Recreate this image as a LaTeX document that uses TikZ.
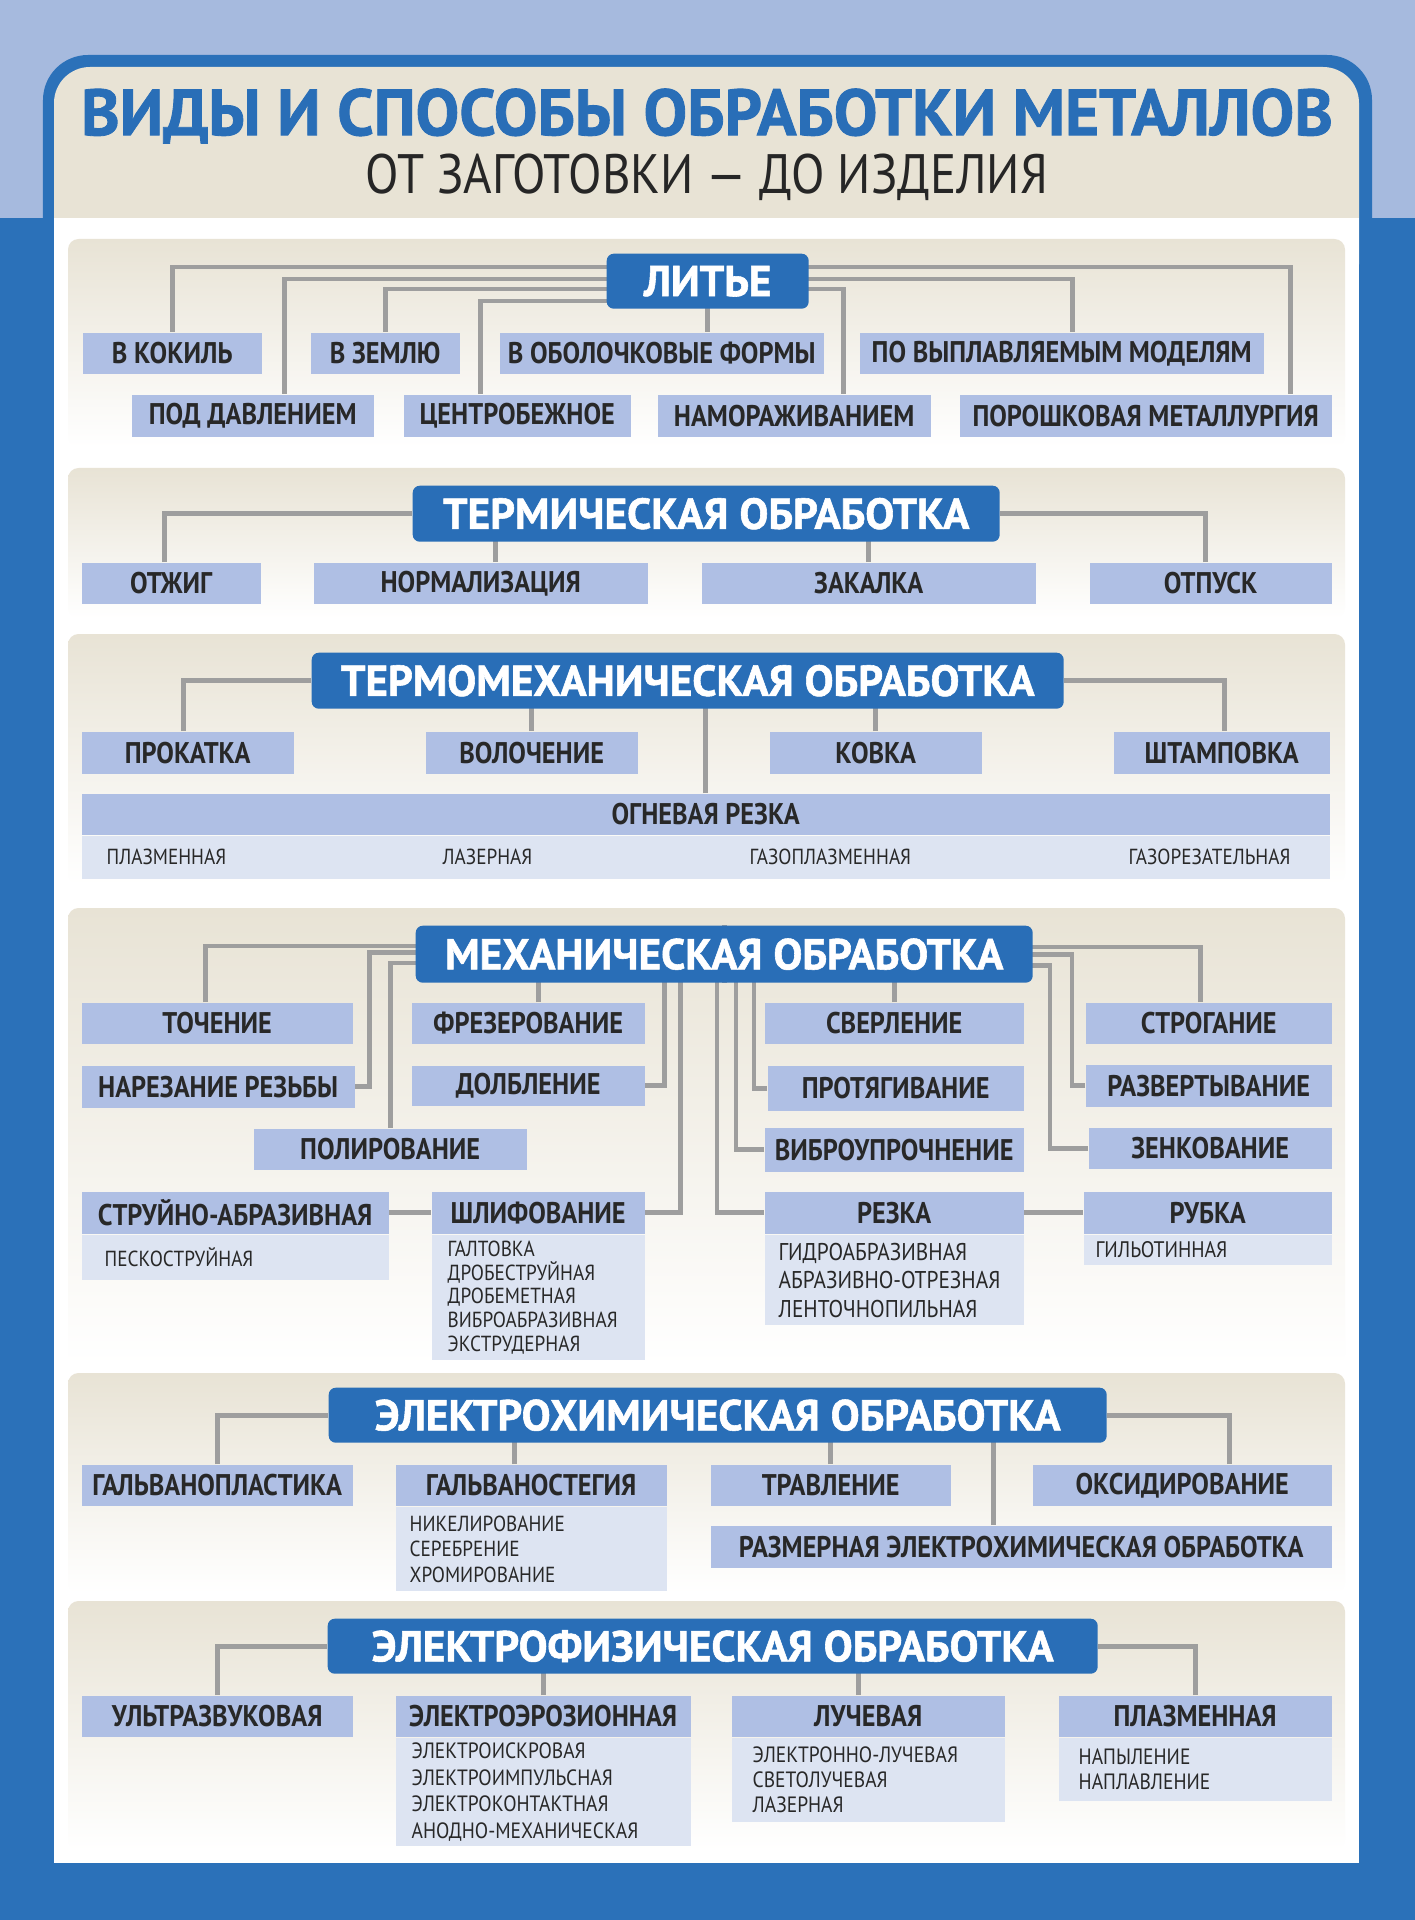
\documentclass[tikz,border=0pt]{standalone}
\usepackage{fontspec}
\setmainfont[FakeStretch=0.88]{PT Sans}
\newfontfamily\headfont[BoldFeatures={FakeBold=1.3}]{PT Sans}
\usepackage{tikz}
\usetikzlibrary{positioning}
\pgfdeclarelayer{back}
\pgfdeclarelayer{lines}
\pgfsetlayers{back,lines,main}

\definecolor{bluedark}{RGB}{43,113,185}
\definecolor{bluelight}{RGB}{166,186,222}
\definecolor{beige}{RGB}{232,227,213}
\definecolor{headblue}{RGB}{41,110,183}
\definecolor{kindblue}{RGB}{175,191,228}
\definecolor{subblue}{RGB}{221,228,242}
\definecolor{linegray}{RGB}{158,158,158}
\definecolor{textgray}{RGB}{40,40,40}

\tikzstyle{mainbox} = [anchor=north west, fill=headblue, rounded corners=2pt, text=white, inner sep=0pt,
                       font=\headfont\fontsize{12.3}{13}\selectfont\bfseries]
\tikzstyle{kind}    = [anchor=north west, fill=kindblue, text=textgray, inner sep=0pt,
                       font=\fontsize{8.5}{9}\selectfont\bfseries]
\tikzstyle{subkind} = [anchor=north west, fill=subblue, text=textgray, inner xsep=0.16cm, inner ysep=0pt, align=left]
\tikzstyle{subitem} = [anchor=west, text=textgray, inner sep=0pt, font=\fontsize{6.2}{6.5}\selectfont]
\tikzstyle{link}    = [draw=linegray, line width=1.4pt]
\tikzstyle{panel}   = [top color=beige, bottom color=white, rounded corners=3pt]

\begin{document}
\begin{tikzpicture}[x=1cm, y=-1cm]

\useasboundingbox (0,0) rectangle (14.15,19.20);

% frame
\begin{pgfonlayer}{back}
\fill [bluedark]  (0,0) rectangle (14.15,19.20);
\fill [bluelight] (0,0) rectangle (14.15,2.18);
\fill [bluedark, rounded corners=0.45cm] (0.43,0.55) rectangle (13.72,4.00);
\fill [beige, rounded corners=0.36cm]    (0.54,0.67) rectangle (13.59,3.00);
\fill [white] (0.54,2.18) rectangle (13.59,18.63);

\path [panel] (0.68, 2.39) rectangle (13.45, 4.47);
\path [panel] (0.68, 4.68) rectangle (13.45, 6.18);
\path [panel] (0.68, 6.34) rectangle (13.45, 8.84);
\path [panel] (0.68, 9.08) rectangle (13.45,13.65);
\path [panel] (0.68,13.73) rectangle (13.45,15.93);
\path [panel] (0.68,16.01) rectangle (13.45,18.50);
\end{pgfonlayer}

% title
\node [text=headblue, font=\headfont\fontsize{18.6}{19}\selectfont\bfseries] at (7.07,1.16) (title)    {ВИДЫ И СПОСОБЫ ОБРАБОТКИ МЕТАЛЛОВ};
\node [text=black!85, font=\fontsize{15.8}{16}\selectfont]                   at (7.07,1.77) (subtitle) {ОТ ЗАГОТОВКИ — ДО ИЗДЕЛИЯ};

% casting
\node [mainbox, minimum width=2.02cm, minimum height=0.55cm] at ( 6.06, 2.53) (lite)    {ЛИТЬЕ};
\node [kind, minimum width=1.79cm, minimum height=0.41cm]    at ( 0.82, 3.32) (kokil)   {В КОКИЛЬ};
\node [kind, minimum width=1.49cm, minimum height=0.41cm]    at ( 3.10, 3.32) (zemlya)  {В ЗЕМЛЮ};
\node [kind, minimum width=3.24cm, minimum height=0.41cm]    at ( 4.99, 3.32) (obol)    {В ОБОЛОЧКОВЫЕ ФОРМЫ};
\node [kind, minimum width=4.04cm, minimum height=0.41cm]    at ( 8.59, 3.32) (vyplavl) {ПО ВЫПЛАВЛЯЕМЫМ МОДЕЛЯМ};
\node [kind, minimum width=2.42cm, minimum height=0.42cm]    at ( 1.31, 3.94) (poddavl) {ПОД ДАВЛЕНИЕМ};
\node [kind, minimum width=2.27cm, minimum height=0.42cm]    at ( 4.03, 3.94) (centrob) {ЦЕНТРОБЕЖНОЕ};
\node [kind, minimum width=2.73cm, minimum height=0.42cm]    at ( 6.57, 3.94) (namoraz) {НАМОРАЖИВАНИЕМ};
\node [kind, minimum width=3.72cm, minimum height=0.42cm]    at ( 9.59, 3.94) (porosh)  {ПОРОШКОВАЯ МЕТАЛЛУРГИЯ};

% heat treatment
\node [mainbox, minimum width=5.87cm, minimum height=0.56cm] at ( 4.12, 4.85) (term)    {ТЕРМИЧЕСКАЯ ОБРАБОТКА};
\node [kind, minimum width=1.79cm, minimum height=0.41cm]    at ( 0.81, 5.62) (otzhig)  {ОТЖИГ};
\node [kind, minimum width=3.34cm, minimum height=0.41cm]    at ( 3.13, 5.62) (normal)  {НОРМАЛИЗАЦИЯ};
\node [kind, minimum width=3.34cm, minimum height=0.41cm]    at ( 7.01, 5.62) (zakalka) {ЗАКАЛКА};
\node [kind, minimum width=2.42cm, minimum height=0.41cm]    at (10.89, 5.62) (otpusk)  {ОТПУСК};

% thermomechanical
\node [mainbox, minimum width=7.52cm, minimum height=0.56cm] at ( 3.11, 6.52) (tmeh)     {ТЕРМОМЕХАНИЧЕСКАЯ ОБРАБОТКА};
\node [kind, minimum width=2.12cm, minimum height=0.42cm]    at ( 0.81, 7.31) (prokatka) {ПРОКАТКА};
\node [kind, minimum width=2.12cm, minimum height=0.42cm]    at ( 4.25, 7.31) (voloch)   {ВОЛОЧЕНИЕ};
\node [kind, minimum width=2.12cm, minimum height=0.42cm]    at ( 7.69, 7.31) (kovka)    {КОВКА};
\node [kind, minimum width=2.16cm, minimum height=0.42cm]    at (11.13, 7.31) (shtamp)   {ШТАМПОВКА};
\node [kind, minimum width=12.48cm, minimum height=0.41cm]   at ( 0.81, 7.93) (ogn)      {ОГНЕВАЯ РЕЗКА};
\node [subkind, minimum width=12.48cm, minimum height=0.43cm] at (ogn.south west) (ognsub) {};
\node [subitem] at ( 1.06, 8.57) (ognplazm) {ПЛАЗМЕННАЯ};
\node [subitem] at ( 4.42, 8.57) (ognlaser) {ЛАЗЕРНАЯ};
\node [subitem] at ( 7.49, 8.57) (ogngazpl) {ГАЗОПЛАЗМЕННАЯ};
\node [subitem] at (11.28, 8.57) (ogngazr)  {ГАЗОРЕЗАТЕЛЬНАЯ};

% mechanical
\node [mainbox, minimum width=6.17cm, minimum height=0.57cm] at ( 4.15, 9.25) (meh)      {МЕХАНИЧЕСКАЯ ОБРАБОТКА};
\node [kind, minimum width=2.71cm, minimum height=0.41cm]    at ( 0.81,10.02) (tochenie) {ТОЧЕНИЕ};
\node [kind, minimum width=2.33cm, minimum height=0.41cm]    at ( 4.11,10.02) (frez)     {ФРЕЗЕРОВАНИЕ};
\node [kind, minimum width=2.59cm, minimum height=0.41cm]    at ( 7.64,10.02) (sverl)    {СВЕРЛЕНИЕ};
\node [kind, minimum width=2.46cm, minimum height=0.41cm]    at (10.85,10.02) (strog)    {СТРОГАНИЕ};
\node [kind, minimum width=2.73cm, minimum height=0.42cm]    at ( 0.81,10.65) (narez)    {НАРЕЗАНИЕ РЕЗЬБЫ};
\node [kind, minimum width=2.33cm, minimum height=0.40cm]    at ( 4.11,10.65) (dolb)     {ДОЛБЛЕНИЕ};
\node [kind, minimum width=2.56cm, minimum height=0.45cm]    at ( 7.67,10.65) (protyag)  {ПРОТЯГИВАНИЕ};
\node [kind, minimum width=2.46cm, minimum height=0.42cm]    at (10.85,10.64) (razv)     {РАЗВЕРТЫВАНИЕ};
\node [kind, minimum width=2.73cm, minimum height=0.41cm]    at ( 2.53,11.28) (polir)    {ПОЛИРОВАНИЕ};
\node [kind, minimum width=2.59cm, minimum height=0.44cm]    at ( 7.64,11.27) (vibro)    {ВИБРОУПРОЧНЕНИЕ};
\node [kind, minimum width=2.43cm, minimum height=0.41cm]    at (10.88,11.27) (zenk)     {ЗЕНКОВАНИЕ};
\node [kind, minimum width=3.07cm, minimum height=0.42cm]    at ( 0.81,11.91) (struy)    {СТРУЙНО-АБРАЗИВНАЯ};
\node [kind, minimum width=2.13cm, minimum height=0.42cm]    at ( 4.31,11.91) (shlif)    {ШЛИФОВАНИЕ};
\node [kind, minimum width=2.59cm, minimum height=0.42cm]    at ( 7.64,11.91) (rezka)    {РЕЗКА};
\node [kind, minimum width=2.48cm, minimum height=0.42cm]    at (10.83,11.91) (rubka)    {РУБКА};

\node [subkind, inner xsep=0.23cm, text width=2.61cm, minimum height=0.45cm, font=\fontsize{6.2}{6.75}\selectfont] at (struy.south west) (struysub) {ПЕСКОСТРУЙНАЯ};
\node [subkind, text width=1.81cm, minimum height=1.25cm, font=\fontsize{6.2}{6.75}\selectfont] at (shlif.south west) (shlifsub)
  {ГАЛТОВКА\\ДРОБЕСТРУЙНАЯ\\ДРОБЕМЕТНАЯ\\ВИБРОАБРАЗИВНАЯ\\ЭКСТРУДЕРНАЯ};
\node [subkind, inner xsep=0.14cm, text width=2.31cm, minimum height=0.90cm, font=\fontsize{6.9}{8.1}\selectfont] at (rezka.south west) (rezkasub)
  {ГИДРОАБРАЗИВНАЯ\\АБРАЗИВНО-ОТРЕЗНАЯ\\ЛЕНТОЧНОПИЛЬНАЯ};
\node [subkind, inner xsep=0.12cm, text width=2.24cm, minimum height=0.30cm, font=\fontsize{6.4}{6.75}\selectfont] at (rubka.south west) (rubkasub) {ГИЛЬОТИННАЯ};

% electrochemical
\node [mainbox, minimum width=7.78cm, minimum height=0.55cm] at ( 3.28,13.87) (ehim)   {ЭЛЕКТРОХИМИЧЕСКАЯ ОБРАБОТКА};
\node [kind, minimum width=2.71cm, minimum height=0.41cm]    at ( 0.81,14.64) (galvpl) {ГАЛЬВАНОПЛАСТИКА};
\node [kind, minimum width=2.71cm, minimum height=0.41cm]    at ( 3.95,14.64) (galvst) {ГАЛЬВАНОСТЕГИЯ};
\node [kind, minimum width=2.40cm, minimum height=0.41cm]    at ( 7.10,14.64) (travl)  {ТРАВЛЕНИЕ};
\node [kind, minimum width=2.99cm, minimum height=0.41cm]    at (10.32,14.64) (oksid)  {ОКСИДИРОВАНИЕ};
\node [kind, minimum width=6.21cm, minimum height=0.42cm]    at ( 7.10,15.25) (razm)   {РАЗМЕРНАЯ ЭЛЕКТРОХИМИЧЕСКАЯ ОБРАБОТКА};
\node [subkind, inner xsep=0.14cm, text width=2.43cm, minimum height=0.84cm, font=\fontsize{6.2}{7.25}\selectfont] at (galvst.south west) (galvstsub)
  {НИКЕЛИРОВАНИЕ\\СЕРЕБРЕНИЕ\\ХРОМИРОВАНИЕ};

% electrophysical
\node [mainbox, minimum width=7.70cm, minimum height=0.55cm] at ( 3.27,16.18) (efiz)  {ЭЛЕКТРОФИЗИЧЕСКАЯ ОБРАБОТКА};
\node [kind, minimum width=2.71cm, minimum height=0.41cm]    at ( 0.81,16.95) (ultra) {УЛЬТРАЗВУКОВАЯ};
\node [kind, minimum width=2.95cm, minimum height=0.41cm]    at ( 3.95,16.95) (erozi) {ЭЛЕКТРОЭРОЗИОННАЯ};
\node [kind, minimum width=2.73cm, minimum height=0.41cm]    at ( 7.31,16.95) (luch)  {ЛУЧЕВАЯ};
\node [kind, minimum width=2.73cm, minimum height=0.41cm]    at (10.58,16.95) (plazm) {ПЛАЗМЕННАЯ};
\node [subkind, text width=2.63cm, minimum height=1.08cm, font=\fontsize{6.3}{7.6}\selectfont] at (erozi.south west) (erozisub)
  {ЭЛЕКТРОИСКРОВАЯ\\ЭЛЕКТРОИМПУЛЬСНАЯ\\ЭЛЕКТРОКОНТАКТНАЯ\\АНОДНО-МЕХАНИЧЕСКАЯ};
\node [subkind, inner xsep=0.21cm, text width=2.31cm, minimum height=0.84cm, font=\fontsize{6.3}{7.1}\selectfont] at (luch.south west) (luchsub)
  {ЭЛЕКТРОННО-ЛУЧЕВАЯ\\СВЕТОЛУЧЕВАЯ\\ЛАЗЕРНАЯ};
\node [subkind, inner xsep=0.20cm, text width=2.33cm, minimum height=0.63cm, font=\fontsize{6.3}{7.1}\selectfont] at (plazm.south west) (plazmsub)
  {НАПЫЛЕНИЕ\\НАПЛАВЛЕНИЕ};

% edges
\begin{pgfonlayer}{lines}
\draw [link] (kokil.north)                   -- ++(0,-0.65) -| ([xshift=1.45cm]porosh.north);
\draw [link] ([xshift=0.32cm]poddavl.north)  -- ++(0,-1.15) -| ([xshift=0.11cm]vyplavl.north);
\draw [link] (zemlya.north)                  -- ++(0,-0.43) -| ([xshift=0.49cm]namoraz.north);
\draw [link] ([xshift=-0.37cm]centrob.north) -- ++(0,-0.93) -| (lite);
\path [link] (lite.south) edge (lite.south |- obol.north);

\draw [link] ([xshift=-0.07cm]otzhig.north)  |- (term);
\draw [link] ([xshift=0.15cm]normal.north)   -- ++(0,-0.3);
\draw [link] (zakalka.north)                 -- ++(0,-0.3);
\draw [link] ([xshift=-0.05cm]otpusk.north)  |- (term);

\draw [link] ([xshift=-0.04cm]prokatka.north) |- (tmeh);
\draw [link] (voloch.north)                  -- ++(0,-0.3);
\draw [link] (ogn.north)                     -- ++(0,-0.95);
\draw [link] (kovka.north)                   -- ++(0,-0.3);
\draw [link] ([xshift=0.03cm]shtamp.north)   |- (tmeh);

\draw [link] ([xshift=-0.12cm]tochenie.north) -- ++(0,-0.56) -| (meh);
\draw [link] (narez.east)  -- ++(0.14,0)  -- ++(0,-1.34) -| (meh);
\draw [link] (polir.north) -- ++(0,-1.65) -| (meh);
\draw [link] ([xshift=0.1cm]frez.north) -- ++(0,-0.3);
\draw [link] (dolb.east)   -- ++(0.19,0)  -- ++(0,-1.3);
\draw [link] (shlif.east)  -- ++(0.35,0)  -- ++(0,-2.6);
\draw [link] (struy.east)  -- (shlif.west);
\draw [link] (rezka.west)  -- ++(-0.47,0) -- ++(0,-2.6);
\draw [link] (vibro.west)  -- ++(-0.28,0) -- ++(0,-1.95);
\draw [link] (protyag.west) -- ++(-0.13,0) -- ++(0,-1.35);
\draw [link] (sverl.north) -- ++(0,-0.3);
\draw [link] ([xshift=-0.08cm]strog.north) -- ++(0,-0.55) -| (meh);
\draw [link] (razv.west)   -- ++(-0.13,0) -- ++(0,-1.31) -| (meh);
\draw [link] (zenk.west)   -- ++(-0.38,0) -- ++(0,-1.83) -| (meh);
\draw [link] (rezka.east)  -- (rubka.west);

\draw [link] (galvpl.north)                  |- (ehim);
\draw [link] ([xshift=-0.17cm]galvst.north)  -- ++(0,-0.3);
\draw [link] (travl.north)                   -- ++(0,-0.3);
\draw [link] ([xshift=-0.28cm]razm.north)    -- ++(0,-0.9);
\draw [link] ([xshift=0.475cm]oksid.north)   |- (ehim);

\draw [link] (ultra.north)                   |- (efiz);
\draw [link] (erozi.north)                   -- ++(0,-0.3);
\draw [link] ([xshift=-0.1cm]luch.north)     -- ++(0,-0.3);
\draw [link] (plazm.north)                   |- (efiz);
\end{pgfonlayer}

\end{tikzpicture}
\end{document}
